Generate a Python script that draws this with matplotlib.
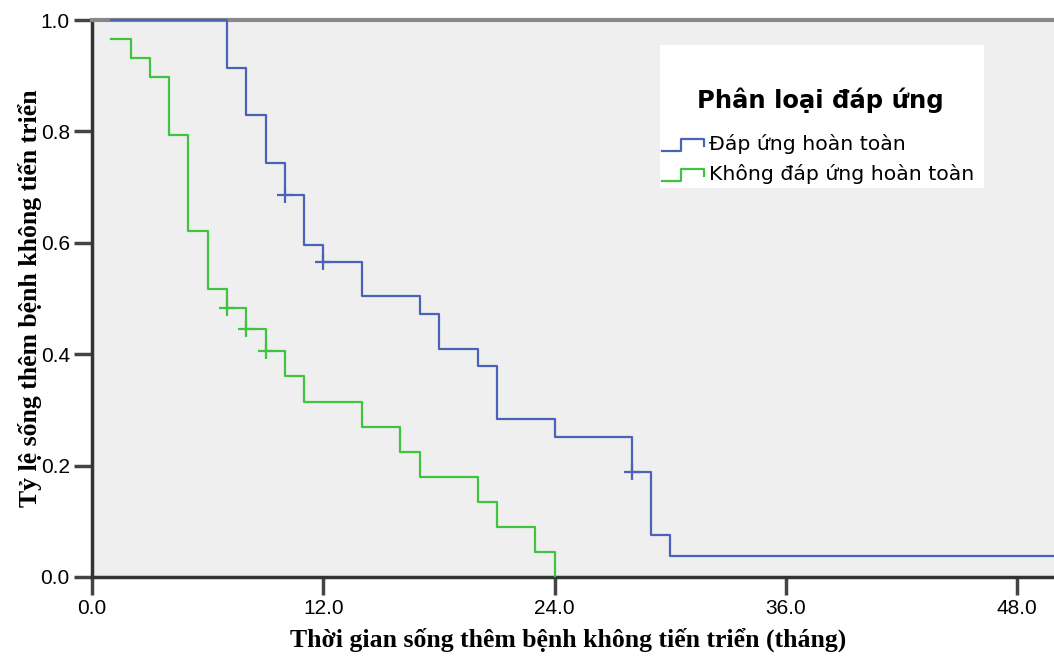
import numpy as np
import matplotlib
matplotlib.use("Agg")
import matplotlib.pyplot as plt
from matplotlib.lines import Line2D
from matplotlib.patches import Rectangle
from matplotlib.legend_handler import HandlerBase

# Kaplan-Meier - nhom dap ung hoan toan
blue_time = [1, 7, 8, 9, 10, 11, 12, 14, 17, 18, 20, 21, 24, 28, 29, 30, 50]
blue_surv = [1.0, 0.914, 0.829, 0.743, 0.686, 0.596, 0.566, 0.504, 0.472,
             0.409, 0.378, 0.283, 0.252, 0.189, 0.076, 0.038, 0.038]
blue_censored = [10, 12, 28]

# Kaplan-Meier - nhom khong dap ung hoan toan
green_time = [1, 2, 3, 4, 5, 6, 7, 8, 9, 10, 11, 14, 16, 17, 20, 21, 23, 24]
green_surv = [0.966, 0.931, 0.897, 0.793, 0.621, 0.517, 0.483, 0.446, 0.405,
              0.360, 0.315, 0.270, 0.225, 0.180, 0.135, 0.090, 0.045, 0.0]
green_censored = [7, 8, 9]

group_labels = ["Đáp ứng hoàn toàn", "Không đáp ứng hoàn toàn"]
legend_title = "Phân loại đáp ứng"
x_ticks = [0, 12, 24, 36, 48]
y_ticks = [0.0, 0.2, 0.4, 0.6, 0.8, 1.0]

BLUE = "#4a62b8"
GREEN = "#40c440"
tick_font = ["Liberation Sans Narrow", "Liberation Sans", "DejaVu Sans"]
label_font = ["Liberation Serif", "DejaVu Serif"]
W, H = 1054, 657


def surv_at(times, surv, t):
    idx = np.searchsorted(times, t, side="right") - 1
    return np.asarray(surv)[idx]


def fig_xy(px, py):
    # toa do pixel (goc tren trai) -> toa do figure
    return px / W, 1 - py / H


class StepHandler(HandlerBase):
    # ky hieu chu thich hinh bac thang
    def create_artists(self, legend, orig_handle, xdescent, ydescent,
                       width, height, fontsize, trans):
        x0, y0 = -xdescent, -ydescent
        xs = [x0, x0 + 0.45 * width, x0 + 0.45 * width, x0 + width, x0 + width]
        ys = [y0 - 0.1 * height, y0 - 0.1 * height, y0 + 0.75 * height,
              y0 + 0.75 * height, y0 + 0.3 * height]
        line = Line2D(xs, ys, color=orig_handle.get_color(), lw=1.6,
                      transform=trans)
        return [line]


fig = plt.figure(figsize=(W / 100, H / 100), dpi=100)
ax = fig.add_axes([92 / W, 80 / H, 962 / W, 557 / H])
ax.set_facecolor("#efefef")

l1, = ax.step(blue_time, blue_surv, where="post", color=BLUE, lw=1.6,
              zorder=3, clip_on=False)
l2, = ax.step(green_time, green_surv, where="post", color=GREEN, lw=1.6,
              zorder=3)

ax.plot(blue_censored, surv_at(blue_time, blue_surv, blue_censored), "+",
        color=BLUE, ms=12, mew=1.6, zorder=3)
ax.plot(green_censored, surv_at(green_time, green_surv, green_censored), "+",
        color=GREEN, ms=12, mew=1.6, zorder=3)

ax.set_xlim(0, 49.9)
ax.set_ylim(0, 1.0)
ax.set_xticks(x_ticks)
ax.set_xticklabels([f"{v:.1f}" for v in x_ticks], family=tick_font, fontsize=15)
ax.set_yticks(y_ticks)
ax.set_yticklabels([f"{v:.1f}" for v in y_ticks], family=tick_font, fontsize=15)
ax.tick_params(direction="out", length=13, width=2.5, color="#444444", pad=3)

for side in ["left", "bottom"]:
    ax.spines[side].set_color("#333333")
    ax.spines[side].set_linewidth(2.5)
ax.spines["top"].set_color("#888888")
ax.spines["top"].set_linewidth(3)
ax.spines["right"].set_visible(False)

ax.set_xlabel("Thời gian sống thêm bệnh không tiến triển (tháng)",
              family=label_font, fontweight="bold", fontsize=18.5)
ax.xaxis.set_label_coords(0.495, -0.09)
ax.xaxis.label.set_va("top")
ax.set_ylabel("Tỷ lệ sống thêm bệnh không tiến triển",
              family=label_font, fontweight="bold", fontsize=18.5)
ax.yaxis.set_label_coords(-0.052, 0.5)

# hop chu thich: nen trang, tieu de, cac muc
x0, y0 = fig_xy(660, 188)
ax.add_patch(Rectangle((x0, y0), 324 / W, 143 / H, transform=fig.transFigure,
                       facecolor="white", edgecolor="none", zorder=4,
                       clip_on=False))
ax.text(*fig_xy(820, 100), legend_title, transform=fig.transFigure,
        ha="center", va="center", family="DejaVu Sans", fontweight="bold",
        fontsize=17.5, zorder=6)

leg = ax.legend([l1, l2], group_labels,
                handler_map={l1: StepHandler(), l2: StepHandler()},
                loc="upper left", bbox_to_anchor=fig_xy(662, 134),
                bbox_transform=fig.transFigure,
                prop={"family": "DejaVu Sans", "size": 14.7},
                frameon=False, handlelength=2.05, handletextpad=0.25,
                labelspacing=0.48, borderpad=0, borderaxespad=0)
leg.set_zorder(6)

fig.savefig("out.png", dpi=100, facecolor="white")
